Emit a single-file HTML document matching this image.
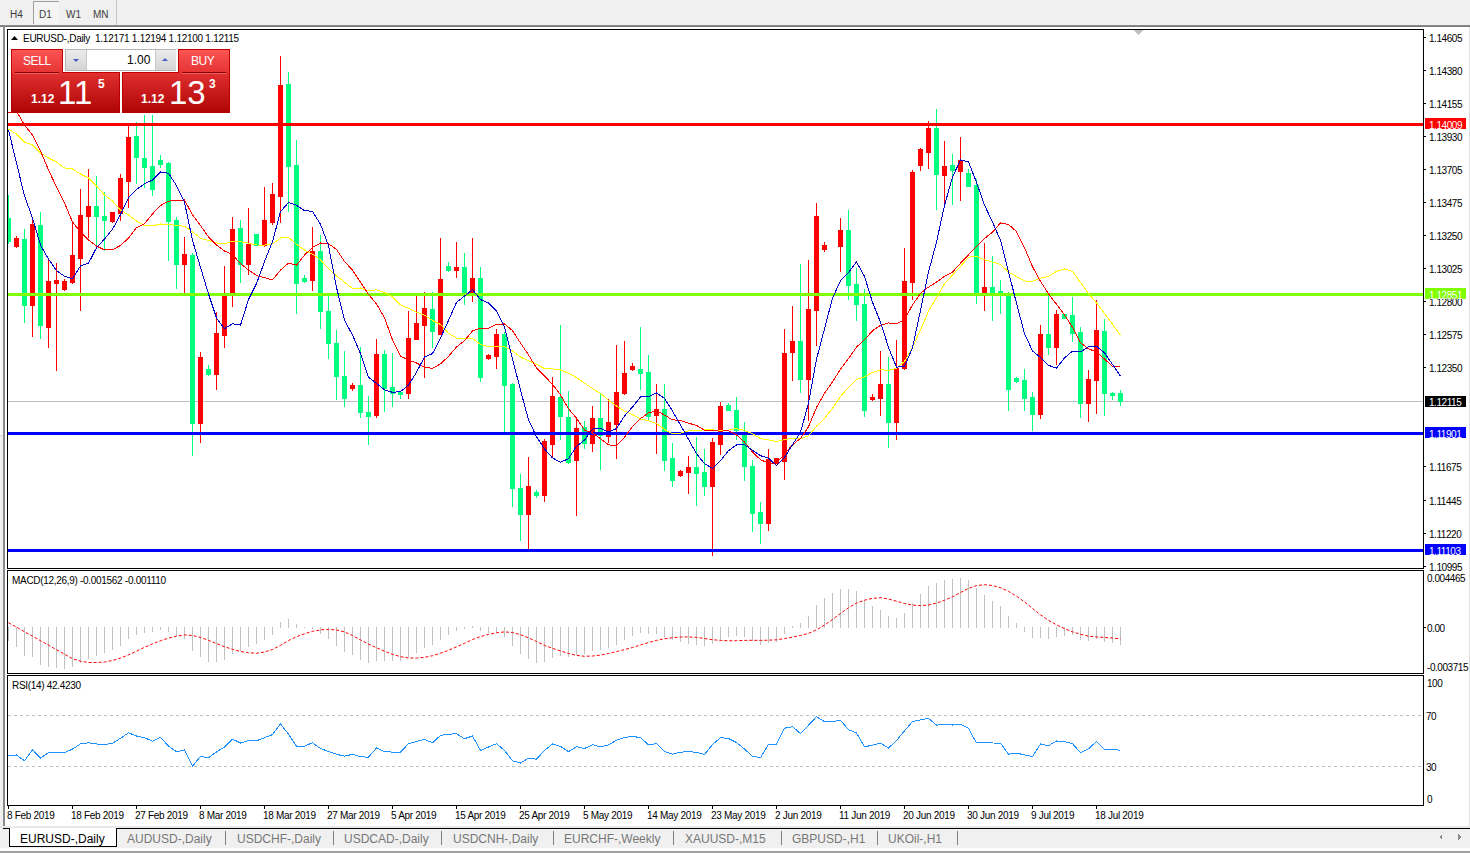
<!DOCTYPE html><html><head><meta charset="utf-8"><style>
html,body{margin:0;padding:0;width:1470px;height:853px;overflow:hidden;background:#f0f0f0;}
body{position:relative;font-family:"Liberation Sans",sans-serif;}
.t{position:absolute;white-space:nowrap;line-height:1;}
</style></head><body>
<svg width="1470" height="853" viewBox="0 0 1470 853" style="position:absolute;left:0;top:0" shape-rendering="crispEdges">
<rect x="0" y="0" width="1470" height="25" fill="#f0f0f0"/>
<rect x="33" y="1" width="26" height="23" fill="#f4f4f4"/>
<rect x="33" y="1" width="26" height="1" fill="#a0a0a0"/>
<rect x="33" y="1" width="1" height="23" fill="#a0a0a0"/>
<rect x="116" y="0" width="1" height="25" fill="#c8c8c8"/>
<rect x="0" y="25" width="1470" height="1" fill="#8a8a8a"/>
<rect x="0" y="26" width="1470" height="1" fill="#7a7a7a"/>
<rect x="0" y="27" width="3" height="800" fill="#f0f0f0"/>
<rect x="0" y="27" width="3" height="408" fill="#f9f9f9"/>
<rect x="0" y="435" width="3" height="1" fill="#d8d8d8"/>
<rect x="3" y="26" width="2" height="801" fill="#8a8a8a"/>
<rect x="5" y="27" width="1464" height="800" fill="#ffffff"/>
<rect x="1469" y="27" width="1" height="800" fill="#e0e0e0"/>
<rect x="0" y="826" width="1470" height="2" fill="#e8e8e8"/>
<rect x="7" y="29" width="1417" height="1" fill="#000"/>
<rect x="7" y="568" width="1417" height="1" fill="#000"/>
<rect x="7" y="29" width="1" height="540" fill="#000"/>
<rect x="1423" y="29" width="1" height="540" fill="#000"/>
<rect x="7" y="570" width="1417" height="1" fill="#000"/>
<rect x="7" y="673" width="1417" height="1" fill="#000"/>
<rect x="7" y="570" width="1" height="104" fill="#000"/>
<rect x="1423" y="570" width="1" height="104" fill="#000"/>
<rect x="7" y="675" width="1417" height="1" fill="#000"/>
<rect x="7" y="805" width="1417" height="1" fill="#000"/>
<rect x="7" y="675" width="1" height="131" fill="#000"/>
<rect x="1423" y="675" width="1" height="131" fill="#000"/>
<defs><clipPath id="cm"><rect x="8" y="30" width="1415" height="538"/></clipPath>
<clipPath id="cmacd"><rect x="8" y="571" width="1415" height="102"/></clipPath>
<clipPath id="crsi"><rect x="8" y="676" width="1415" height="129"/></clipPath></defs>
<g clip-path="url(#cm)">
<rect x="8" y="401" width="1415" height="1" fill="#c0c0c0"/>
<rect x="8" y="195" width="1" height="49" fill="#00ff7f"/>
<rect x="6" y="218" width="5" height="24" fill="#00ff7f"/>
<rect x="16" y="236" width="1" height="12" fill="#ff0000"/>
<rect x="14" y="238" width="5" height="9" fill="#ff0000"/>
<rect x="24" y="229" width="1" height="94" fill="#00ff7f"/>
<rect x="22" y="239" width="5" height="67" fill="#00ff7f"/>
<rect x="32" y="218" width="1" height="119" fill="#ff0000"/>
<rect x="30" y="224" width="5" height="82" fill="#ff0000"/>
<rect x="40" y="212" width="1" height="127" fill="#00ff7f"/>
<rect x="38" y="225" width="5" height="101" fill="#00ff7f"/>
<rect x="48" y="259" width="1" height="89" fill="#ff0000"/>
<rect x="46" y="281" width="5" height="47" fill="#ff0000"/>
<rect x="56" y="263" width="1" height="108" fill="#ff0000"/>
<rect x="54" y="280" width="5" height="4" fill="#ff0000"/>
<rect x="64" y="279" width="1" height="12" fill="#ff0000"/>
<rect x="62" y="281" width="5" height="9" fill="#ff0000"/>
<rect x="72" y="222" width="1" height="62" fill="#ff0000"/>
<rect x="70" y="255" width="5" height="28" fill="#ff0000"/>
<rect x="80" y="189" width="1" height="122" fill="#ff0000"/>
<rect x="78" y="215" width="5" height="44" fill="#ff0000"/>
<rect x="88" y="169" width="1" height="69" fill="#ff0000"/>
<rect x="86" y="206" width="5" height="11" fill="#ff0000"/>
<rect x="96" y="176" width="1" height="69" fill="#00ff7f"/>
<rect x="94" y="206" width="5" height="11" fill="#00ff7f"/>
<rect x="104" y="192" width="1" height="59" fill="#00ff7f"/>
<rect x="102" y="216" width="5" height="5" fill="#00ff7f"/>
<rect x="112" y="212" width="1" height="11" fill="#ff0000"/>
<rect x="110" y="212" width="5" height="10" fill="#ff0000"/>
<rect x="120" y="174" width="1" height="47" fill="#ff0000"/>
<rect x="118" y="178" width="5" height="36" fill="#ff0000"/>
<rect x="128" y="125" width="1" height="83" fill="#ff0000"/>
<rect x="126" y="137" width="5" height="45" fill="#ff0000"/>
<rect x="136" y="122" width="1" height="62" fill="#00ff7f"/>
<rect x="134" y="136" width="5" height="22" fill="#00ff7f"/>
<rect x="144" y="115" width="1" height="73" fill="#00ff7f"/>
<rect x="142" y="158" width="5" height="10" fill="#00ff7f"/>
<rect x="152" y="115" width="1" height="81" fill="#00ff7f"/>
<rect x="150" y="166" width="5" height="24" fill="#00ff7f"/>
<rect x="160" y="155" width="1" height="13" fill="#00ff7f"/>
<rect x="158" y="160" width="5" height="5" fill="#00ff7f"/>
<rect x="168" y="162" width="1" height="99" fill="#00ff7f"/>
<rect x="166" y="163" width="5" height="59" fill="#00ff7f"/>
<rect x="176" y="217" width="1" height="72" fill="#00ff7f"/>
<rect x="174" y="220" width="5" height="45" fill="#00ff7f"/>
<rect x="184" y="237" width="1" height="56" fill="#ff0000"/>
<rect x="182" y="254" width="5" height="11" fill="#ff0000"/>
<rect x="192" y="253" width="1" height="203" fill="#00ff7f"/>
<rect x="190" y="255" width="5" height="169" fill="#00ff7f"/>
<rect x="200" y="352" width="1" height="91" fill="#ff0000"/>
<rect x="198" y="357" width="5" height="67" fill="#ff0000"/>
<rect x="208" y="365" width="1" height="11" fill="#00ff7f"/>
<rect x="206" y="369" width="5" height="6" fill="#00ff7f"/>
<rect x="216" y="312" width="1" height="78" fill="#ff0000"/>
<rect x="214" y="333" width="5" height="42" fill="#ff0000"/>
<rect x="224" y="266" width="1" height="82" fill="#ff0000"/>
<rect x="222" y="296" width="5" height="40" fill="#ff0000"/>
<rect x="232" y="217" width="1" height="90" fill="#ff0000"/>
<rect x="230" y="229" width="5" height="65" fill="#ff0000"/>
<rect x="240" y="220" width="1" height="63" fill="#00ff7f"/>
<rect x="238" y="228" width="5" height="37" fill="#00ff7f"/>
<rect x="248" y="208" width="1" height="67" fill="#ff0000"/>
<rect x="246" y="244" width="5" height="21" fill="#ff0000"/>
<rect x="256" y="234" width="1" height="12" fill="#00ff7f"/>
<rect x="254" y="234" width="5" height="12" fill="#00ff7f"/>
<rect x="264" y="187" width="1" height="60" fill="#ff0000"/>
<rect x="262" y="220" width="5" height="26" fill="#ff0000"/>
<rect x="272" y="183" width="1" height="42" fill="#ff0000"/>
<rect x="270" y="194" width="5" height="29" fill="#ff0000"/>
<rect x="280" y="56" width="1" height="167" fill="#ff0000"/>
<rect x="278" y="85" width="5" height="112" fill="#ff0000"/>
<rect x="288" y="72" width="1" height="140" fill="#00ff7f"/>
<rect x="286" y="84" width="5" height="83" fill="#00ff7f"/>
<rect x="296" y="140" width="1" height="174" fill="#00ff7f"/>
<rect x="294" y="165" width="5" height="119" fill="#00ff7f"/>
<rect x="304" y="275" width="1" height="8" fill="#00ff7f"/>
<rect x="302" y="278" width="5" height="4" fill="#00ff7f"/>
<rect x="312" y="227" width="1" height="64" fill="#ff0000"/>
<rect x="310" y="251" width="5" height="30" fill="#ff0000"/>
<rect x="320" y="235" width="1" height="94" fill="#00ff7f"/>
<rect x="318" y="251" width="5" height="61" fill="#00ff7f"/>
<rect x="328" y="296" width="1" height="63" fill="#00ff7f"/>
<rect x="326" y="311" width="5" height="33" fill="#00ff7f"/>
<rect x="336" y="330" width="1" height="70" fill="#00ff7f"/>
<rect x="334" y="343" width="5" height="34" fill="#00ff7f"/>
<rect x="344" y="351" width="1" height="56" fill="#00ff7f"/>
<rect x="342" y="376" width="5" height="23" fill="#00ff7f"/>
<rect x="352" y="383" width="1" height="8" fill="#ff0000"/>
<rect x="350" y="385" width="5" height="4" fill="#ff0000"/>
<rect x="360" y="347" width="1" height="71" fill="#00ff7f"/>
<rect x="358" y="385" width="5" height="28" fill="#00ff7f"/>
<rect x="368" y="396" width="1" height="49" fill="#00ff7f"/>
<rect x="366" y="412" width="5" height="5" fill="#00ff7f"/>
<rect x="376" y="339" width="1" height="79" fill="#ff0000"/>
<rect x="374" y="354" width="5" height="62" fill="#ff0000"/>
<rect x="384" y="350" width="1" height="62" fill="#00ff7f"/>
<rect x="382" y="354" width="5" height="35" fill="#00ff7f"/>
<rect x="392" y="353" width="1" height="54" fill="#00ff7f"/>
<rect x="390" y="387" width="5" height="7" fill="#00ff7f"/>
<rect x="400" y="391" width="1" height="8" fill="#00ff7f"/>
<rect x="398" y="392" width="5" height="3" fill="#00ff7f"/>
<rect x="408" y="311" width="1" height="88" fill="#ff0000"/>
<rect x="406" y="338" width="5" height="56" fill="#ff0000"/>
<rect x="416" y="296" width="1" height="44" fill="#ff0000"/>
<rect x="414" y="323" width="5" height="17" fill="#ff0000"/>
<rect x="424" y="292" width="1" height="86" fill="#ff0000"/>
<rect x="422" y="308" width="5" height="18" fill="#ff0000"/>
<rect x="432" y="292" width="1" height="56" fill="#00ff7f"/>
<rect x="430" y="309" width="5" height="23" fill="#00ff7f"/>
<rect x="440" y="238" width="1" height="97" fill="#ff0000"/>
<rect x="438" y="279" width="5" height="56" fill="#ff0000"/>
<rect x="448" y="262" width="1" height="10" fill="#00ff7f"/>
<rect x="446" y="266" width="5" height="5" fill="#00ff7f"/>
<rect x="456" y="242" width="1" height="36" fill="#ff0000"/>
<rect x="454" y="267" width="5" height="4" fill="#ff0000"/>
<rect x="464" y="253" width="1" height="52" fill="#00ff7f"/>
<rect x="462" y="267" width="5" height="29" fill="#00ff7f"/>
<rect x="472" y="238" width="1" height="64" fill="#ff0000"/>
<rect x="470" y="278" width="5" height="16" fill="#ff0000"/>
<rect x="480" y="267" width="1" height="115" fill="#00ff7f"/>
<rect x="478" y="278" width="5" height="100" fill="#00ff7f"/>
<rect x="488" y="354" width="1" height="6" fill="#ff0000"/>
<rect x="486" y="355" width="5" height="4" fill="#ff0000"/>
<rect x="496" y="329" width="1" height="40" fill="#ff0000"/>
<rect x="494" y="334" width="5" height="23" fill="#ff0000"/>
<rect x="504" y="332" width="1" height="100" fill="#00ff7f"/>
<rect x="502" y="334" width="5" height="52" fill="#00ff7f"/>
<rect x="512" y="383" width="1" height="124" fill="#00ff7f"/>
<rect x="510" y="384" width="5" height="105" fill="#00ff7f"/>
<rect x="520" y="474" width="1" height="67" fill="#00ff7f"/>
<rect x="518" y="488" width="5" height="27" fill="#00ff7f"/>
<rect x="528" y="457" width="1" height="93" fill="#ff0000"/>
<rect x="526" y="486" width="5" height="29" fill="#ff0000"/>
<rect x="536" y="490" width="1" height="8" fill="#00ff7f"/>
<rect x="534" y="492" width="5" height="4" fill="#00ff7f"/>
<rect x="544" y="439" width="1" height="63" fill="#ff0000"/>
<rect x="542" y="441" width="5" height="55" fill="#ff0000"/>
<rect x="552" y="377" width="1" height="80" fill="#ff0000"/>
<rect x="550" y="396" width="5" height="49" fill="#ff0000"/>
<rect x="560" y="325" width="1" height="115" fill="#00ff7f"/>
<rect x="558" y="397" width="5" height="20" fill="#00ff7f"/>
<rect x="568" y="391" width="1" height="73" fill="#00ff7f"/>
<rect x="566" y="417" width="5" height="46" fill="#00ff7f"/>
<rect x="576" y="419" width="1" height="97" fill="#ff0000"/>
<rect x="574" y="428" width="5" height="33" fill="#ff0000"/>
<rect x="584" y="421" width="1" height="28" fill="#00ff7f"/>
<rect x="582" y="427" width="5" height="17" fill="#00ff7f"/>
<rect x="592" y="406" width="1" height="46" fill="#ff0000"/>
<rect x="590" y="418" width="5" height="26" fill="#ff0000"/>
<rect x="600" y="393" width="1" height="77" fill="#00ff7f"/>
<rect x="598" y="418" width="5" height="18" fill="#00ff7f"/>
<rect x="608" y="399" width="1" height="44" fill="#ff0000"/>
<rect x="606" y="422" width="5" height="15" fill="#ff0000"/>
<rect x="616" y="345" width="1" height="114" fill="#ff0000"/>
<rect x="614" y="392" width="5" height="33" fill="#ff0000"/>
<rect x="624" y="341" width="1" height="54" fill="#ff0000"/>
<rect x="622" y="373" width="5" height="21" fill="#ff0000"/>
<rect x="632" y="363" width="1" height="8" fill="#ff0000"/>
<rect x="630" y="366" width="5" height="4" fill="#ff0000"/>
<rect x="640" y="327" width="1" height="63" fill="#00ff7f"/>
<rect x="638" y="369" width="5" height="5" fill="#00ff7f"/>
<rect x="648" y="355" width="1" height="65" fill="#00ff7f"/>
<rect x="646" y="372" width="5" height="45" fill="#00ff7f"/>
<rect x="656" y="384" width="1" height="70" fill="#ff0000"/>
<rect x="654" y="409" width="5" height="7" fill="#ff0000"/>
<rect x="664" y="384" width="1" height="87" fill="#00ff7f"/>
<rect x="662" y="409" width="5" height="52" fill="#00ff7f"/>
<rect x="672" y="443" width="1" height="44" fill="#00ff7f"/>
<rect x="670" y="458" width="5" height="23" fill="#00ff7f"/>
<rect x="680" y="470" width="1" height="7" fill="#ff0000"/>
<rect x="678" y="471" width="5" height="5" fill="#ff0000"/>
<rect x="688" y="456" width="1" height="38" fill="#ff0000"/>
<rect x="686" y="467" width="5" height="6" fill="#ff0000"/>
<rect x="696" y="437" width="1" height="69" fill="#00ff7f"/>
<rect x="694" y="467" width="5" height="7" fill="#00ff7f"/>
<rect x="704" y="449" width="1" height="47" fill="#00ff7f"/>
<rect x="702" y="472" width="5" height="15" fill="#00ff7f"/>
<rect x="712" y="438" width="1" height="118" fill="#ff0000"/>
<rect x="710" y="442" width="5" height="45" fill="#ff0000"/>
<rect x="720" y="402" width="1" height="53" fill="#ff0000"/>
<rect x="718" y="406" width="5" height="39" fill="#ff0000"/>
<rect x="728" y="403" width="1" height="8" fill="#00ff7f"/>
<rect x="726" y="405" width="5" height="6" fill="#00ff7f"/>
<rect x="736" y="397" width="1" height="43" fill="#00ff7f"/>
<rect x="734" y="410" width="5" height="21" fill="#00ff7f"/>
<rect x="744" y="422" width="1" height="59" fill="#00ff7f"/>
<rect x="742" y="434" width="5" height="33" fill="#00ff7f"/>
<rect x="752" y="460" width="1" height="72" fill="#00ff7f"/>
<rect x="750" y="466" width="5" height="48" fill="#00ff7f"/>
<rect x="760" y="502" width="1" height="42" fill="#00ff7f"/>
<rect x="758" y="512" width="5" height="12" fill="#00ff7f"/>
<rect x="768" y="449" width="1" height="82" fill="#ff0000"/>
<rect x="766" y="459" width="5" height="65" fill="#ff0000"/>
<rect x="776" y="458" width="1" height="6" fill="#ff0000"/>
<rect x="774" y="458" width="5" height="6" fill="#ff0000"/>
<rect x="784" y="329" width="1" height="151" fill="#ff0000"/>
<rect x="782" y="353" width="5" height="109" fill="#ff0000"/>
<rect x="792" y="306" width="1" height="75" fill="#ff0000"/>
<rect x="790" y="341" width="5" height="12" fill="#ff0000"/>
<rect x="800" y="264" width="1" height="129" fill="#00ff7f"/>
<rect x="798" y="341" width="5" height="39" fill="#00ff7f"/>
<rect x="808" y="260" width="1" height="161" fill="#ff0000"/>
<rect x="806" y="309" width="5" height="71" fill="#ff0000"/>
<rect x="816" y="203" width="1" height="143" fill="#ff0000"/>
<rect x="814" y="216" width="5" height="95" fill="#ff0000"/>
<rect x="824" y="242" width="1" height="10" fill="#ff0000"/>
<rect x="822" y="245" width="5" height="5" fill="#ff0000"/>
<rect x="840" y="218" width="1" height="54" fill="#ff0000"/>
<rect x="838" y="230" width="5" height="17" fill="#ff0000"/>
<rect x="848" y="210" width="1" height="90" fill="#00ff7f"/>
<rect x="846" y="230" width="5" height="56" fill="#00ff7f"/>
<rect x="856" y="268" width="1" height="53" fill="#00ff7f"/>
<rect x="854" y="284" width="5" height="21" fill="#00ff7f"/>
<rect x="864" y="289" width="1" height="128" fill="#00ff7f"/>
<rect x="862" y="304" width="5" height="107" fill="#00ff7f"/>
<rect x="872" y="394" width="1" height="7" fill="#ff0000"/>
<rect x="870" y="397" width="5" height="3" fill="#ff0000"/>
<rect x="880" y="351" width="1" height="65" fill="#ff0000"/>
<rect x="878" y="384" width="5" height="15" fill="#ff0000"/>
<rect x="888" y="357" width="1" height="91" fill="#00ff7f"/>
<rect x="886" y="384" width="5" height="39" fill="#00ff7f"/>
<rect x="896" y="340" width="1" height="100" fill="#ff0000"/>
<rect x="894" y="368" width="5" height="55" fill="#ff0000"/>
<rect x="904" y="248" width="1" height="122" fill="#ff0000"/>
<rect x="902" y="281" width="5" height="88" fill="#ff0000"/>
<rect x="912" y="170" width="1" height="130" fill="#ff0000"/>
<rect x="910" y="172" width="5" height="111" fill="#ff0000"/>
<rect x="920" y="148" width="1" height="23" fill="#ff0000"/>
<rect x="918" y="149" width="5" height="17" fill="#ff0000"/>
<rect x="928" y="121" width="1" height="48" fill="#ff0000"/>
<rect x="926" y="128" width="5" height="25" fill="#ff0000"/>
<rect x="936" y="109" width="1" height="101" fill="#00ff7f"/>
<rect x="934" y="128" width="5" height="47" fill="#00ff7f"/>
<rect x="944" y="141" width="1" height="64" fill="#ff0000"/>
<rect x="942" y="166" width="5" height="10" fill="#ff0000"/>
<rect x="952" y="154" width="1" height="51" fill="#00ff7f"/>
<rect x="950" y="165" width="5" height="6" fill="#00ff7f"/>
<rect x="960" y="137" width="1" height="64" fill="#ff0000"/>
<rect x="958" y="160" width="5" height="12" fill="#ff0000"/>
<rect x="968" y="169" width="1" height="18" fill="#00ff7f"/>
<rect x="966" y="173" width="5" height="14" fill="#00ff7f"/>
<rect x="976" y="179" width="1" height="125" fill="#00ff7f"/>
<rect x="974" y="185" width="5" height="109" fill="#00ff7f"/>
<rect x="984" y="243" width="1" height="68" fill="#ff0000"/>
<rect x="982" y="287" width="5" height="7" fill="#ff0000"/>
<rect x="992" y="256" width="1" height="65" fill="#00ff7f"/>
<rect x="990" y="287" width="5" height="7" fill="#00ff7f"/>
<rect x="1000" y="280" width="1" height="34" fill="#00ff7f"/>
<rect x="998" y="291" width="5" height="4" fill="#00ff7f"/>
<rect x="1008" y="292" width="1" height="119" fill="#00ff7f"/>
<rect x="1006" y="295" width="5" height="95" fill="#00ff7f"/>
<rect x="1016" y="377" width="1" height="6" fill="#00ff7f"/>
<rect x="1014" y="378" width="5" height="4" fill="#00ff7f"/>
<rect x="1024" y="369" width="1" height="42" fill="#00ff7f"/>
<rect x="1022" y="380" width="5" height="19" fill="#00ff7f"/>
<rect x="1032" y="392" width="1" height="39" fill="#00ff7f"/>
<rect x="1030" y="397" width="5" height="18" fill="#00ff7f"/>
<rect x="1040" y="325" width="1" height="94" fill="#ff0000"/>
<rect x="1038" y="334" width="5" height="81" fill="#ff0000"/>
<rect x="1048" y="296" width="1" height="59" fill="#00ff7f"/>
<rect x="1046" y="334" width="5" height="14" fill="#00ff7f"/>
<rect x="1056" y="310" width="1" height="55" fill="#ff0000"/>
<rect x="1054" y="314" width="5" height="34" fill="#ff0000"/>
<rect x="1064" y="314" width="1" height="5" fill="#00ff7f"/>
<rect x="1062" y="314" width="5" height="5" fill="#00ff7f"/>
<rect x="1072" y="297" width="1" height="45" fill="#00ff7f"/>
<rect x="1070" y="315" width="5" height="19" fill="#00ff7f"/>
<rect x="1080" y="327" width="1" height="91" fill="#00ff7f"/>
<rect x="1078" y="332" width="5" height="72" fill="#00ff7f"/>
<rect x="1088" y="370" width="1" height="52" fill="#ff0000"/>
<rect x="1086" y="379" width="5" height="25" fill="#ff0000"/>
<rect x="1096" y="300" width="1" height="114" fill="#ff0000"/>
<rect x="1094" y="330" width="5" height="51" fill="#ff0000"/>
<rect x="1104" y="319" width="1" height="97" fill="#00ff7f"/>
<rect x="1102" y="331" width="5" height="63" fill="#00ff7f"/>
<rect x="1112" y="392" width="1" height="8" fill="#00ff7f"/>
<rect x="1110" y="393" width="5" height="3" fill="#00ff7f"/>
<rect x="1120" y="390" width="1" height="16" fill="#00ff7f"/>
<rect x="1118" y="393" width="5" height="9" fill="#00ff7f"/>
<rect x="8" y="123" width="1415" height="3" fill="#ff0000"/>
<rect x="8" y="293" width="1415" height="3" fill="#7fff00"/>
<rect x="8" y="432" width="1415" height="3" fill="#0000ff"/>
<rect x="8" y="549" width="1415" height="3" fill="#0000ff"/>
<polyline points="8.5,129.0 16.5,134.0 24.5,142.0 32.5,145.0 40.5,153.0 48.5,158.0 56.5,162.0 64.5,168.0 72.5,169.0 80.5,174.0 88.5,178.0 96.5,186.0 104.5,195.0 112.5,201.0 120.5,210.0 128.5,215.0 136.5,221.0 144.5,225.6 152.5,226.0 160.5,224.0 168.5,224.4 176.5,225.5 184.5,226.2 192.5,231.9 200.5,238.2 208.5,240.5 216.5,243.0 224.5,243.8 232.5,241.3 240.5,241.7 248.5,243.1 256.5,245.0 264.5,245.1 272.5,243.9 280.5,237.9 288.5,237.3 296.5,244.2 304.5,250.1 312.5,254.1 320.5,260.0 328.5,268.5 336.5,275.9 344.5,282.2 352.5,288.5 360.5,288.0 368.5,290.8 376.5,289.8 384.5,292.4 392.5,297.0 400.5,304.9 408.5,308.4 416.5,312.2 424.5,315.2 432.5,320.5 440.5,324.5 448.5,333.3 456.5,338.1 464.5,338.7 472.5,338.6 480.5,344.6 488.5,346.7 496.5,346.2 504.5,346.7 512.5,351.0 520.5,357.1 528.5,360.6 536.5,364.4 544.5,368.5 552.5,368.9 560.5,370.0 568.5,373.2 576.5,377.5 584.5,383.2 592.5,388.5 600.5,393.4 608.5,400.2 616.5,406.0 624.5,411.1 632.5,414.5 640.5,419.0 648.5,420.9 656.5,423.4 664.5,429.4 672.5,434.0 680.5,433.1 688.5,430.9 696.5,430.3 704.5,429.9 712.5,429.9 720.5,430.4 728.5,430.1 736.5,428.6 744.5,430.4 752.5,433.7 760.5,438.7 768.5,439.9 776.5,441.6 784.5,439.7 792.5,438.2 800.5,438.8 808.5,435.8 816.5,426.2 824.5,418.4 832.5,408.2 840.5,396.3 848.5,387.4 856.5,379.7 864.5,376.7 872.5,372.4 880.5,369.7 888.5,370.4 896.5,368.4 904.5,361.3 912.5,347.3 920.5,330.0 928.5,311.2 936.5,297.6 944.5,283.7 952.5,275.0 960.5,266.4 968.5,257.2 976.5,256.4 984.5,259.8 992.5,262.1 1000.5,264.4 1008.5,272.0 1016.5,276.6 1024.5,281.0 1032.5,281.2 1040.5,278.2 1048.5,276.5 1056.5,271.3 1064.5,269.0 1072.5,271.4 1080.5,282.4 1088.5,293.4 1096.5,303.0 1104.5,313.4 1112.5,324.3 1120.5,335.3" fill="none" stroke="#ffff00" stroke-width="1" shape-rendering="crispEdges"/>
<polyline points="8.5,113.0 16.5,111.0 24.5,125.0 32.5,135.0 40.5,151.0 48.5,170.0 56.5,187.0 64.5,203.0 72.5,222.0 80.5,232.0 88.5,240.0 96.5,246.0 104.5,250.0 112.5,249.9 120.5,245.4 128.5,238.2 136.5,227.6 144.5,223.6 152.5,213.9 160.5,205.5 168.5,201.3 176.5,200.1 184.5,200.0 192.5,214.9 200.5,225.6 208.5,236.9 216.5,245.0 224.5,251.0 232.5,254.6 240.5,263.7 248.5,269.9 256.5,275.5 264.5,277.7 272.5,279.9 280.5,270.1 288.5,263.1 296.5,265.2 304.5,255.1 312.5,247.5 320.5,243.0 328.5,243.7 336.5,249.4 344.5,261.5 352.5,270.1 360.5,282.1 368.5,294.4 376.5,303.9 384.5,317.8 392.5,339.8 400.5,356.1 408.5,360.0 416.5,363.0 424.5,367.1 432.5,368.5 440.5,363.9 448.5,356.4 456.5,347.0 464.5,340.6 472.5,331.0 480.5,328.2 488.5,328.3 496.5,324.4 504.5,323.9 512.5,330.6 520.5,343.1 528.5,354.8 536.5,368.1 544.5,376.0 552.5,384.4 560.5,394.8 568.5,408.7 576.5,418.2 584.5,430.0 592.5,432.9 600.5,438.6 608.5,444.9 616.5,445.4 624.5,437.2 632.5,426.6 640.5,418.6 648.5,412.9 656.5,410.6 664.5,415.2 672.5,419.8 680.5,420.4 688.5,423.2 696.5,425.4 704.5,430.2 712.5,430.7 720.5,429.6 728.5,430.9 736.5,434.9 744.5,442.1 752.5,452.1 760.5,459.7 768.5,463.3 776.5,463.1 784.5,454.1 792.5,444.8 800.5,438.5 808.5,426.8 816.5,407.5 824.5,393.4 832.5,381.9 840.5,369.1 848.5,358.7 856.5,347.1 864.5,339.8 872.5,330.8 880.5,325.4 888.5,322.9 896.5,323.9 904.5,319.6 912.5,304.9 920.5,293.4 928.5,287.1 936.5,282.1 944.5,276.4 952.5,272.1 960.5,263.2 968.5,254.8 976.5,246.4 984.5,238.6 992.5,232.1 1000.5,222.9 1008.5,224.4 1016.5,231.6 1024.5,247.7 1032.5,266.6 1040.5,281.4 1048.5,293.7 1056.5,304.3 1064.5,314.9 1072.5,327.2 1080.5,342.7 1088.5,348.9 1096.5,351.9 1104.5,359.1 1112.5,366.3 1120.5,367.1" fill="none" stroke="#ff0000" stroke-width="1" shape-rendering="crispEdges"/>
<polyline points="8.5,130.0 16.5,163.0 24.5,196.0 32.5,218.0 40.5,245.0 48.5,259.0 56.5,270.6 64.5,276.3 72.5,278.7 80.5,265.9 88.5,263.3 96.5,247.7 104.5,239.0 112.5,229.3 120.5,214.6 128.5,197.7 136.5,189.4 144.5,183.9 152.5,180.0 160.5,172.0 168.5,173.3 176.5,185.6 184.5,202.3 192.5,240.3 200.5,267.4 208.5,293.9 216.5,318.0 224.5,328.7 232.5,323.7 240.5,325.1 248.5,299.6 256.5,283.6 264.5,261.6 272.5,241.7 280.5,211.6 288.5,202.6 296.5,205.3 304.5,210.6 312.5,211.4 320.5,224.4 328.5,245.7 336.5,287.3 344.5,320.4 352.5,335.0 360.5,353.7 368.5,377.3 376.5,383.4 384.5,389.9 392.5,392.3 400.5,391.7 408.5,385.0 416.5,372.3 424.5,356.9 432.5,353.6 440.5,338.0 448.5,320.4 456.5,302.3 464.5,296.1 472.5,289.7 480.5,299.6 488.5,303.0 496.5,310.9 504.5,327.3 512.5,358.9 520.5,390.1 528.5,419.9 536.5,436.7 544.5,449.0 552.5,457.9 560.5,462.3 568.5,458.6 576.5,446.3 584.5,440.1 592.5,429.1 600.5,428.3 608.5,432.0 616.5,428.6 624.5,415.9 632.5,407.0 640.5,397.0 648.5,396.7 656.5,393.0 664.5,398.4 672.5,411.0 680.5,425.0 688.5,439.4 696.5,453.7 704.5,463.7 712.5,468.4 720.5,460.7 728.5,450.7 736.5,444.9 744.5,444.7 752.5,450.4 760.5,455.7 768.5,458.1 776.5,465.6 784.5,457.4 792.5,444.7 800.5,432.3 808.5,403.1 816.5,359.3 824.5,328.7 832.5,298.3 840.5,280.7 848.5,272.7 856.5,262.0 864.5,276.4 872.5,302.3 880.5,322.1 888.5,347.4 896.5,367.1 904.5,366.6 912.5,347.7 920.5,310.4 928.5,272.0 936.5,242.0 944.5,205.4 952.5,177.1 960.5,159.9 968.5,161.9 976.5,182.4 984.5,205.1 992.5,222.1 1000.5,240.4 1008.5,271.7 1016.5,303.3 1024.5,333.6 1032.5,350.9 1040.5,357.6 1048.5,365.3 1056.5,368.1 1064.5,358.0 1072.5,351.1 1080.5,351.9 1088.5,346.9 1096.5,346.3 1104.5,352.9 1112.5,364.4 1120.5,376.3" fill="none" stroke="#0000cd" stroke-width="1" shape-rendering="crispEdges"/>
</g>
<polygon points="1133,30 1143,30 1138,35" fill="#c0c0c0"/>
<rect x="1424" y="37" width="2" height="1" fill="#000"/>
<rect x="1424" y="70" width="2" height="1" fill="#000"/>
<rect x="1424" y="103" width="2" height="1" fill="#000"/>
<rect x="1424" y="136" width="2" height="1" fill="#000"/>
<rect x="1424" y="169" width="2" height="1" fill="#000"/>
<rect x="1424" y="202" width="2" height="1" fill="#000"/>
<rect x="1424" y="235" width="2" height="1" fill="#000"/>
<rect x="1424" y="268" width="2" height="1" fill="#000"/>
<rect x="1424" y="301" width="2" height="1" fill="#000"/>
<rect x="1424" y="334" width="2" height="1" fill="#000"/>
<rect x="1424" y="367" width="2" height="1" fill="#000"/>
<rect x="1424" y="466" width="2" height="1" fill="#000"/>
<rect x="1424" y="500" width="2" height="1" fill="#000"/>
<rect x="1424" y="533" width="2" height="1" fill="#000"/>
<rect x="1424" y="566" width="2" height="1" fill="#000"/>
<rect x="1425" y="118" width="41" height="11" fill="#ff0000"/>
<rect x="1425" y="288" width="41" height="11" fill="#7fff00"/>
<rect x="1425" y="396" width="41" height="11" fill="#000000"/>
<rect x="1425" y="427" width="41" height="11" fill="#0000ff"/>
<rect x="1425" y="544" width="41" height="11" fill="#0000ff"/>
<g clip-path="url(#cmacd)">
<rect x="8" y="627" width="1" height="14" fill="#c0c0c0"/>
<rect x="16" y="627" width="1" height="20" fill="#c0c0c0"/>
<rect x="24" y="627" width="1" height="29" fill="#c0c0c0"/>
<rect x="32" y="627" width="1" height="30" fill="#c0c0c0"/>
<rect x="40" y="627" width="1" height="38" fill="#c0c0c0"/>
<rect x="48" y="627" width="1" height="40" fill="#c0c0c0"/>
<rect x="56" y="627" width="1" height="41" fill="#c0c0c0"/>
<rect x="64" y="627" width="1" height="42" fill="#c0c0c0"/>
<rect x="72" y="627" width="1" height="40" fill="#c0c0c0"/>
<rect x="80" y="627" width="1" height="36" fill="#c0c0c0"/>
<rect x="88" y="627" width="1" height="32" fill="#c0c0c0"/>
<rect x="96" y="627" width="1" height="29" fill="#c0c0c0"/>
<rect x="104" y="627" width="1" height="26" fill="#c0c0c0"/>
<rect x="112" y="627" width="1" height="23" fill="#c0c0c0"/>
<rect x="120" y="627" width="1" height="19" fill="#c0c0c0"/>
<rect x="128" y="627" width="1" height="12" fill="#c0c0c0"/>
<rect x="136" y="627" width="1" height="8" fill="#c0c0c0"/>
<rect x="144" y="627" width="1" height="6" fill="#c0c0c0"/>
<rect x="152" y="627" width="1" height="5" fill="#c0c0c0"/>
<rect x="160" y="627" width="1" height="3" fill="#c0c0c0"/>
<rect x="168" y="627" width="1" height="5" fill="#c0c0c0"/>
<rect x="176" y="627" width="1" height="9" fill="#c0c0c0"/>
<rect x="184" y="627" width="1" height="12" fill="#c0c0c0"/>
<rect x="192" y="627" width="1" height="24" fill="#c0c0c0"/>
<rect x="200" y="627" width="1" height="30" fill="#c0c0c0"/>
<rect x="208" y="627" width="1" height="35" fill="#c0c0c0"/>
<rect x="216" y="627" width="1" height="35" fill="#c0c0c0"/>
<rect x="224" y="627" width="1" height="33" fill="#c0c0c0"/>
<rect x="232" y="627" width="1" height="27" fill="#c0c0c0"/>
<rect x="240" y="627" width="1" height="24" fill="#c0c0c0"/>
<rect x="248" y="627" width="1" height="20" fill="#c0c0c0"/>
<rect x="256" y="627" width="1" height="17" fill="#c0c0c0"/>
<rect x="264" y="627" width="1" height="13" fill="#c0c0c0"/>
<rect x="272" y="627" width="1" height="8" fill="#c0c0c0"/>
<rect x="280" y="622" width="1" height="6" fill="#c0c0c0"/>
<rect x="288" y="619" width="1" height="9" fill="#c0c0c0"/>
<rect x="296" y="624" width="1" height="4" fill="#c0c0c0"/>
<rect x="304" y="627" width="1" height="1" fill="#c0c0c0"/>
<rect x="312" y="627" width="1" height="2" fill="#c0c0c0"/>
<rect x="320" y="627" width="1" height="7" fill="#c0c0c0"/>
<rect x="328" y="627" width="1" height="12" fill="#c0c0c0"/>
<rect x="336" y="627" width="1" height="19" fill="#c0c0c0"/>
<rect x="344" y="627" width="1" height="25" fill="#c0c0c0"/>
<rect x="352" y="627" width="1" height="28" fill="#c0c0c0"/>
<rect x="360" y="627" width="1" height="33" fill="#c0c0c0"/>
<rect x="368" y="627" width="1" height="36" fill="#c0c0c0"/>
<rect x="376" y="627" width="1" height="34" fill="#c0c0c0"/>
<rect x="384" y="627" width="1" height="34" fill="#c0c0c0"/>
<rect x="392" y="627" width="1" height="34" fill="#c0c0c0"/>
<rect x="400" y="627" width="1" height="34" fill="#c0c0c0"/>
<rect x="408" y="627" width="1" height="30" fill="#c0c0c0"/>
<rect x="416" y="627" width="1" height="26" fill="#c0c0c0"/>
<rect x="424" y="627" width="1" height="21" fill="#c0c0c0"/>
<rect x="432" y="627" width="1" height="18" fill="#c0c0c0"/>
<rect x="440" y="627" width="1" height="13" fill="#c0c0c0"/>
<rect x="448" y="627" width="1" height="8" fill="#c0c0c0"/>
<rect x="456" y="627" width="1" height="4" fill="#c0c0c0"/>
<rect x="464" y="627" width="1" height="2" fill="#c0c0c0"/>
<rect x="472" y="626" width="1" height="2" fill="#c0c0c0"/>
<rect x="480" y="627" width="1" height="4" fill="#c0c0c0"/>
<rect x="488" y="627" width="1" height="6" fill="#c0c0c0"/>
<rect x="496" y="627" width="1" height="6" fill="#c0c0c0"/>
<rect x="504" y="627" width="1" height="10" fill="#c0c0c0"/>
<rect x="512" y="627" width="1" height="19" fill="#c0c0c0"/>
<rect x="520" y="627" width="1" height="27" fill="#c0c0c0"/>
<rect x="528" y="627" width="1" height="32" fill="#c0c0c0"/>
<rect x="536" y="627" width="1" height="36" fill="#c0c0c0"/>
<rect x="544" y="627" width="1" height="35" fill="#c0c0c0"/>
<rect x="552" y="627" width="1" height="31" fill="#c0c0c0"/>
<rect x="560" y="627" width="1" height="29" fill="#c0c0c0"/>
<rect x="568" y="627" width="1" height="30" fill="#c0c0c0"/>
<rect x="576" y="627" width="1" height="28" fill="#c0c0c0"/>
<rect x="584" y="627" width="1" height="27" fill="#c0c0c0"/>
<rect x="592" y="627" width="1" height="24" fill="#c0c0c0"/>
<rect x="600" y="627" width="1" height="23" fill="#c0c0c0"/>
<rect x="608" y="627" width="1" height="21" fill="#c0c0c0"/>
<rect x="616" y="627" width="1" height="18" fill="#c0c0c0"/>
<rect x="624" y="627" width="1" height="13" fill="#c0c0c0"/>
<rect x="632" y="627" width="1" height="9" fill="#c0c0c0"/>
<rect x="640" y="627" width="1" height="6" fill="#c0c0c0"/>
<rect x="648" y="627" width="1" height="7" fill="#c0c0c0"/>
<rect x="656" y="627" width="1" height="7" fill="#c0c0c0"/>
<rect x="664" y="627" width="1" height="10" fill="#c0c0c0"/>
<rect x="672" y="627" width="1" height="13" fill="#c0c0c0"/>
<rect x="680" y="627" width="1" height="15" fill="#c0c0c0"/>
<rect x="688" y="627" width="1" height="17" fill="#c0c0c0"/>
<rect x="696" y="627" width="1" height="18" fill="#c0c0c0"/>
<rect x="704" y="627" width="1" height="19" fill="#c0c0c0"/>
<rect x="712" y="627" width="1" height="17" fill="#c0c0c0"/>
<rect x="720" y="627" width="1" height="13" fill="#c0c0c0"/>
<rect x="728" y="627" width="1" height="10" fill="#c0c0c0"/>
<rect x="736" y="627" width="1" height="9" fill="#c0c0c0"/>
<rect x="744" y="627" width="1" height="10" fill="#c0c0c0"/>
<rect x="752" y="627" width="1" height="14" fill="#c0c0c0"/>
<rect x="760" y="627" width="1" height="18" fill="#c0c0c0"/>
<rect x="768" y="627" width="1" height="16" fill="#c0c0c0"/>
<rect x="776" y="627" width="1" height="15" fill="#c0c0c0"/>
<rect x="784" y="627" width="1" height="7" fill="#c0c0c0"/>
<rect x="792" y="626" width="1" height="2" fill="#c0c0c0"/>
<rect x="800" y="623" width="1" height="5" fill="#c0c0c0"/>
<rect x="808" y="616" width="1" height="12" fill="#c0c0c0"/>
<rect x="816" y="605" width="1" height="23" fill="#c0c0c0"/>
<rect x="824" y="598" width="1" height="30" fill="#c0c0c0"/>
<rect x="832" y="593" width="1" height="35" fill="#c0c0c0"/>
<rect x="840" y="589" width="1" height="39" fill="#c0c0c0"/>
<rect x="848" y="589" width="1" height="39" fill="#c0c0c0"/>
<rect x="856" y="591" width="1" height="37" fill="#c0c0c0"/>
<rect x="864" y="600" width="1" height="28" fill="#c0c0c0"/>
<rect x="872" y="606" width="1" height="22" fill="#c0c0c0"/>
<rect x="880" y="610" width="1" height="18" fill="#c0c0c0"/>
<rect x="888" y="616" width="1" height="12" fill="#c0c0c0"/>
<rect x="896" y="618" width="1" height="10" fill="#c0c0c0"/>
<rect x="904" y="613" width="1" height="15" fill="#c0c0c0"/>
<rect x="912" y="603" width="1" height="25" fill="#c0c0c0"/>
<rect x="920" y="594" width="1" height="34" fill="#c0c0c0"/>
<rect x="928" y="586" width="1" height="42" fill="#c0c0c0"/>
<rect x="936" y="583" width="1" height="45" fill="#c0c0c0"/>
<rect x="944" y="580" width="1" height="48" fill="#c0c0c0"/>
<rect x="952" y="579" width="1" height="49" fill="#c0c0c0"/>
<rect x="960" y="578" width="1" height="50" fill="#c0c0c0"/>
<rect x="968" y="580" width="1" height="48" fill="#c0c0c0"/>
<rect x="976" y="588" width="1" height="40" fill="#c0c0c0"/>
<rect x="984" y="595" width="1" height="33" fill="#c0c0c0"/>
<rect x="992" y="601" width="1" height="27" fill="#c0c0c0"/>
<rect x="1000" y="606" width="1" height="22" fill="#c0c0c0"/>
<rect x="1008" y="616" width="1" height="12" fill="#c0c0c0"/>
<rect x="1016" y="623" width="1" height="5" fill="#c0c0c0"/>
<rect x="1024" y="627" width="1" height="5" fill="#c0c0c0"/>
<rect x="1032" y="627" width="1" height="11" fill="#c0c0c0"/>
<rect x="1040" y="627" width="1" height="11" fill="#c0c0c0"/>
<rect x="1048" y="627" width="1" height="12" fill="#c0c0c0"/>
<rect x="1056" y="627" width="1" height="10" fill="#c0c0c0"/>
<rect x="1064" y="627" width="1" height="9" fill="#c0c0c0"/>
<rect x="1072" y="627" width="1" height="8" fill="#c0c0c0"/>
<rect x="1080" y="627" width="1" height="13" fill="#c0c0c0"/>
<rect x="1088" y="627" width="1" height="14" fill="#c0c0c0"/>
<rect x="1096" y="627" width="1" height="12" fill="#c0c0c0"/>
<rect x="1104" y="627" width="1" height="15" fill="#c0c0c0"/>
<rect x="1112" y="627" width="1" height="16" fill="#c0c0c0"/>
<rect x="1120" y="627" width="1" height="18" fill="#c0c0c0"/>
<polyline points="8.5,622.7 16.5,627.2 24.5,631.7 32.5,636.2 40.5,640.7 48.5,645.2 56.5,649.7 64.5,654.2 72.5,658.7 80.5,661.2 88.5,662.5 96.5,662.5 104.5,662.0 112.5,660.5 120.5,658.1 128.5,654.9 136.5,651.2 144.5,647.3 152.5,643.9 160.5,640.7 168.5,638.1 176.5,636.2 184.5,634.9 192.5,635.5 200.5,637.4 208.5,640.3 216.5,643.6 224.5,646.7 232.5,649.3 240.5,651.5 248.5,652.7 256.5,653.3 264.5,652.0 272.5,649.5 280.5,645.3 288.5,640.6 296.5,636.7 304.5,633.8 312.5,631.4 320.5,629.9 328.5,629.4 336.5,630.0 344.5,631.9 352.5,635.5 360.5,639.9 368.5,644.1 376.5,647.7 384.5,651.2 392.5,654.3 400.5,656.7 408.5,658.0 416.5,658.1 424.5,657.3 432.5,655.7 440.5,653.2 448.5,650.3 456.5,646.9 464.5,643.3 472.5,639.5 480.5,636.6 488.5,634.4 496.5,632.8 504.5,631.9 512.5,632.5 520.5,634.7 528.5,637.8 536.5,641.5 544.5,645.4 552.5,648.4 560.5,650.9 568.5,653.4 576.5,655.4 584.5,656.3 592.5,656.0 600.5,655.1 608.5,653.5 616.5,651.6 624.5,649.6 632.5,647.5 640.5,644.9 648.5,642.6 656.5,640.4 664.5,638.8 672.5,637.7 680.5,637.0 688.5,636.9 696.5,637.4 704.5,638.5 712.5,639.7 720.5,640.4 728.5,640.8 736.5,640.7 744.5,640.4 752.5,640.3 760.5,640.4 768.5,640.2 776.5,639.8 784.5,638.6 792.5,637.1 800.5,635.5 808.5,633.4 816.5,629.8 824.5,625.1 832.5,619.5 840.5,613.5 848.5,607.7 856.5,603.1 864.5,600.2 872.5,598.4 880.5,597.7 888.5,599.0 896.5,601.2 904.5,603.5 912.5,605.1 920.5,605.6 928.5,605.0 936.5,603.1 944.5,600.3 952.5,596.8 960.5,592.6 968.5,588.4 976.5,585.6 984.5,584.7 992.5,585.5 1000.5,587.7 1008.5,591.4 1016.5,596.2 1024.5,601.9 1032.5,608.4 1040.5,614.8 1048.5,620.3 1056.5,624.8 1064.5,628.6 1072.5,631.8 1080.5,634.3 1088.5,636.2 1096.5,637.0 1104.5,637.4 1112.5,638.1 1120.5,638.8" fill="none" stroke="#ff0000" stroke-width="1" stroke-dasharray="3,2" shape-rendering="auto"/>
</g>
<rect x="1424" y="627" width="2" height="1" fill="#000"/>
<g clip-path="url(#crsi)">
<line x1="8" y1="715.5" x2="1423" y2="715.5" stroke="#c0c0c0" stroke-width="1" stroke-dasharray="3,3"/>
<line x1="8" y1="766.5" x2="1423" y2="766.5" stroke="#c0c0c0" stroke-width="1" stroke-dasharray="3,3"/>
<polyline points="8.5,755.4 16.5,755.0 24.5,760.8 32.5,749.7 40.5,758.0 48.5,752.6 56.5,752.5 64.5,752.6 72.5,749.1 80.5,743.9 88.5,742.8 96.5,744.0 104.5,744.6 112.5,743.3 120.5,738.3 128.5,732.8 136.5,736.0 144.5,737.7 152.5,741.2 160.5,737.3 168.5,746.1 176.5,751.7 184.5,750.0 192.5,766.3 200.5,756.3 208.5,757.8 216.5,751.9 224.5,747.0 232.5,739.1 240.5,743.0 248.5,740.7 256.5,740.8 264.5,737.7 272.5,734.6 280.5,723.7 288.5,734.3 296.5,746.3 304.5,746.1 312.5,742.8 320.5,748.6 328.5,751.4 336.5,754.3 344.5,756.2 352.5,754.3 360.5,756.8 368.5,757.2 376.5,748.0 384.5,751.6 392.5,752.1 400.5,752.2 408.5,743.6 416.5,741.5 424.5,739.4 432.5,742.8 440.5,735.4 448.5,734.2 456.5,733.8 464.5,738.7 472.5,736.0 480.5,750.5 488.5,747.0 496.5,743.7 504.5,750.4 512.5,760.8 520.5,763.0 528.5,758.3 536.5,759.2 544.5,750.4 552.5,744.0 560.5,746.4 568.5,751.7 576.5,746.7 584.5,748.5 592.5,744.7 600.5,746.9 608.5,744.9 616.5,740.2 624.5,737.4 632.5,736.4 640.5,737.6 648.5,744.9 656.5,743.6 664.5,751.4 672.5,754.1 680.5,752.3 688.5,751.4 696.5,752.4 704.5,754.5 712.5,744.5 720.5,737.7 728.5,738.5 736.5,742.5 744.5,749.1 752.5,756.2 760.5,757.6 768.5,744.3 776.5,744.1 784.5,728.2 792.5,726.7 800.5,733.6 808.5,725.2 816.5,716.7 824.5,721.7 832.5,721.7 840.5,720.2 848.5,729.8 856.5,732.8 864.5,746.9 872.5,745.1 880.5,743.3 888.5,748.0 896.5,740.6 904.5,730.8 912.5,721.6 920.5,719.9 928.5,718.4 936.5,725.1 944.5,724.4 952.5,725.0 960.5,724.1 968.5,728.4 976.5,743.0 984.5,742.2 992.5,743.0 1000.5,743.1 1008.5,754.3 1016.5,753.1 1024.5,754.9 1032.5,756.6 1040.5,744.0 1048.5,745.7 1056.5,741.0 1064.5,741.5 1072.5,743.7 1080.5,752.7 1088.5,748.8 1096.5,741.5 1104.5,749.3 1112.5,749.5 1120.5,750.3" fill="none" stroke="#1e90ff" stroke-width="1" shape-rendering="crispEdges"/>
</g>
<rect x="8" y="806" width="1" height="3" fill="#000"/>
<rect x="72" y="806" width="1" height="3" fill="#000"/>
<rect x="136" y="806" width="1" height="3" fill="#000"/>
<rect x="200" y="806" width="1" height="3" fill="#000"/>
<rect x="264" y="806" width="1" height="3" fill="#000"/>
<rect x="328" y="806" width="1" height="3" fill="#000"/>
<rect x="392" y="806" width="1" height="3" fill="#000"/>
<rect x="456" y="806" width="1" height="3" fill="#000"/>
<rect x="520" y="806" width="1" height="3" fill="#000"/>
<rect x="584" y="806" width="1" height="3" fill="#000"/>
<rect x="648" y="806" width="1" height="3" fill="#000"/>
<rect x="712" y="806" width="1" height="3" fill="#000"/>
<rect x="776" y="806" width="1" height="3" fill="#000"/>
<rect x="840" y="806" width="1" height="3" fill="#000"/>
<rect x="904" y="806" width="1" height="3" fill="#000"/>
<rect x="968" y="806" width="1" height="3" fill="#000"/>
<rect x="1032" y="806" width="1" height="3" fill="#000"/>
<rect x="1096" y="806" width="1" height="3" fill="#000"/>
<rect x="3" y="828" width="1467" height="1" fill="#000"/>
<rect x="0" y="829" width="1470" height="19" fill="#f0f0f0"/>
<rect x="9" y="828" width="108" height="19" fill="#fff"/>
<rect x="9" y="828" width="1" height="19" fill="#000"/>
<rect x="116" y="828" width="1" height="19" fill="#000"/>
<rect x="9" y="846" width="108" height="1" fill="#000"/>
<rect x="0" y="848" width="1470" height="3" fill="#ffffff"/>
<rect x="0" y="851" width="1470" height="2" fill="#a0a0a0"/>
<polygon points="1442,834 1442,840 1439,837" fill="#888"/>
<polygon points="1458,834 1458,840 1461,837" fill="#888"/>
<rect x="225" y="831" width="1" height="14" fill="#808080"/>
<rect x="333" y="831" width="1" height="14" fill="#808080"/>
<rect x="441" y="831" width="1" height="14" fill="#808080"/>
<rect x="553" y="831" width="1" height="14" fill="#808080"/>
<rect x="673" y="831" width="1" height="14" fill="#808080"/>
<rect x="781" y="831" width="1" height="14" fill="#808080"/>
<rect x="877" y="831" width="1" height="14" fill="#808080"/>
<rect x="957" y="831" width="1" height="14" fill="#808080"/>
</svg>
<div class="t" style="left:1429px;top:34px;font-size:10px;color:#000;font-weight:normal;letter-spacing:-0.45px">1.14605</div>
<div class="t" style="left:1429px;top:67px;font-size:10px;color:#000;font-weight:normal;letter-spacing:-0.45px">1.14380</div>
<div class="t" style="left:1429px;top:100px;font-size:10px;color:#000;font-weight:normal;letter-spacing:-0.45px">1.14155</div>
<div class="t" style="left:1429px;top:133px;font-size:10px;color:#000;font-weight:normal;letter-spacing:-0.45px">1.13930</div>
<div class="t" style="left:1429px;top:166px;font-size:10px;color:#000;font-weight:normal;letter-spacing:-0.45px">1.13705</div>
<div class="t" style="left:1429px;top:199px;font-size:10px;color:#000;font-weight:normal;letter-spacing:-0.45px">1.13475</div>
<div class="t" style="left:1429px;top:232px;font-size:10px;color:#000;font-weight:normal;letter-spacing:-0.45px">1.13250</div>
<div class="t" style="left:1429px;top:265px;font-size:10px;color:#000;font-weight:normal;letter-spacing:-0.45px">1.13025</div>
<div class="t" style="left:1429px;top:298px;font-size:10px;color:#000;font-weight:normal;letter-spacing:-0.45px">1.12800</div>
<div class="t" style="left:1429px;top:331px;font-size:10px;color:#000;font-weight:normal;letter-spacing:-0.45px">1.12575</div>
<div class="t" style="left:1429px;top:364px;font-size:10px;color:#000;font-weight:normal;letter-spacing:-0.45px">1.12350</div>
<div class="t" style="left:1429px;top:463px;font-size:10px;color:#000;font-weight:normal;letter-spacing:-0.45px">1.11675</div>
<div class="t" style="left:1429px;top:497px;font-size:10px;color:#000;font-weight:normal;letter-spacing:-0.45px">1.11445</div>
<div class="t" style="left:1429px;top:530px;font-size:10px;color:#000;font-weight:normal;letter-spacing:-0.45px">1.11220</div>
<div class="t" style="left:1429px;top:563px;font-size:10px;color:#000;font-weight:normal;letter-spacing:-0.45px">1.10995</div>
<div class="t" style="left:1429px;top:121px;font-size:10px;color:#fff;font-weight:normal;letter-spacing:-0.45px">1.14009</div>
<div class="t" style="left:1429px;top:291px;font-size:10px;color:#fff;font-weight:normal;letter-spacing:-0.45px">1.12851</div>
<div class="t" style="left:1429px;top:398px;font-size:10px;color:#fff;font-weight:normal;letter-spacing:-0.45px">1.12115</div>
<div class="t" style="left:1429px;top:430px;font-size:10px;color:#fff;font-weight:normal;letter-spacing:-0.45px">1.11901</div>
<div class="t" style="left:1429px;top:547px;font-size:10px;color:#fff;font-weight:normal;letter-spacing:-0.45px">1.11103</div>
<div class="t" style="left:1427px;top:574px;font-size:10px;color:#000;font-weight:normal;letter-spacing:-0.45px">0.004465</div>
<div class="t" style="left:1427px;top:624px;font-size:10px;color:#000;font-weight:normal;letter-spacing:-0.45px">0.00</div>
<div class="t" style="left:1427px;top:663px;font-size:10px;color:#000;font-weight:normal;letter-spacing:-0.45px">-0.003715</div>
<div class="t" style="left:1427px;top:679px;font-size:10px;color:#000;font-weight:normal;letter-spacing:-0.45px">100</div>
<div class="t" style="left:1426px;top:712px;font-size:10px;color:#000;font-weight:normal;letter-spacing:-0.45px">70</div>
<div class="t" style="left:1426px;top:763px;font-size:10px;color:#000;font-weight:normal;letter-spacing:-0.45px">30</div>
<div class="t" style="left:1427px;top:795px;font-size:10px;color:#000;font-weight:normal;letter-spacing:-0.45px">0</div>
<div class="t" style="left:7px;top:811px;font-size:10px;color:#000;font-weight:normal;letter-spacing:-0.3px">8 Feb 2019</div>
<div class="t" style="left:71px;top:811px;font-size:10px;color:#000;font-weight:normal;letter-spacing:-0.3px">18 Feb 2019</div>
<div class="t" style="left:135px;top:811px;font-size:10px;color:#000;font-weight:normal;letter-spacing:-0.3px">27 Feb 2019</div>
<div class="t" style="left:199px;top:811px;font-size:10px;color:#000;font-weight:normal;letter-spacing:-0.3px">8 Mar 2019</div>
<div class="t" style="left:263px;top:811px;font-size:10px;color:#000;font-weight:normal;letter-spacing:-0.3px">18 Mar 2019</div>
<div class="t" style="left:327px;top:811px;font-size:10px;color:#000;font-weight:normal;letter-spacing:-0.3px">27 Mar 2019</div>
<div class="t" style="left:391px;top:811px;font-size:10px;color:#000;font-weight:normal;letter-spacing:-0.3px">5 Apr 2019</div>
<div class="t" style="left:455px;top:811px;font-size:10px;color:#000;font-weight:normal;letter-spacing:-0.3px">15 Apr 2019</div>
<div class="t" style="left:519px;top:811px;font-size:10px;color:#000;font-weight:normal;letter-spacing:-0.3px">25 Apr 2019</div>
<div class="t" style="left:583px;top:811px;font-size:10px;color:#000;font-weight:normal;letter-spacing:-0.3px">5 May 2019</div>
<div class="t" style="left:647px;top:811px;font-size:10px;color:#000;font-weight:normal;letter-spacing:-0.3px">14 May 2019</div>
<div class="t" style="left:711px;top:811px;font-size:10px;color:#000;font-weight:normal;letter-spacing:-0.3px">23 May 2019</div>
<div class="t" style="left:775px;top:811px;font-size:10px;color:#000;font-weight:normal;letter-spacing:-0.3px">2 Jun 2019</div>
<div class="t" style="left:839px;top:811px;font-size:10px;color:#000;font-weight:normal;letter-spacing:-0.3px">11 Jun 2019</div>
<div class="t" style="left:903px;top:811px;font-size:10px;color:#000;font-weight:normal;letter-spacing:-0.3px">20 Jun 2019</div>
<div class="t" style="left:967px;top:811px;font-size:10px;color:#000;font-weight:normal;letter-spacing:-0.3px">30 Jun 2019</div>
<div class="t" style="left:1031px;top:811px;font-size:10px;color:#000;font-weight:normal;letter-spacing:-0.3px">9 Jul 2019</div>
<div class="t" style="left:1095px;top:811px;font-size:10px;color:#000;font-weight:normal;letter-spacing:-0.3px">18 Jul 2019</div>
<div class="t" style="left:12px;top:576px;font-size:10px;color:#000;font-weight:normal;letter-spacing:-0.3px">MACD(12,26,9) -0.001562 -0.001110</div>
<div class="t" style="left:12px;top:681px;font-size:10px;color:#000;font-weight:normal;letter-spacing:-0.3px">RSI(14) 42.4230</div>
<svg style="position:absolute;left:10px;top:34px" width="10" height="8"><polygon points="1,6 4.5,2 8,6" fill="#000"/></svg>
<div class="t" style="left:23px;top:34px;font-size:10px;color:#000;font-weight:normal;letter-spacing:-0.27px">EURUSD-,Daily&nbsp; 1.12171 1.12194 1.12100 1.12115</div>
<div class="t" style="left:10px;top:10px;font-size:10px;color:#3c3c3c;font-weight:normal;">H4</div>
<div class="t" style="left:39px;top:10px;font-size:10px;color:#3c3c3c;font-weight:normal;">D1</div>
<div class="t" style="left:66px;top:10px;font-size:10px;color:#3c3c3c;font-weight:normal;">W1</div>
<div class="t" style="left:93px;top:10px;font-size:10px;color:#3c3c3c;font-weight:normal;">MN</div>
<div class="t" style="left:20px;top:833px;font-size:12px;color:#000;font-weight:normal;">EURUSD-,Daily</div>
<div class="t" style="left:127px;top:833px;font-size:12px;color:#777;font-weight:normal;">AUDUSD-,Daily</div>
<div class="t" style="left:237px;top:833px;font-size:12px;color:#777;font-weight:normal;">USDCHF-,Daily</div>
<div class="t" style="left:344px;top:833px;font-size:12px;color:#777;font-weight:normal;">USDCAD-,Daily</div>
<div class="t" style="left:453px;top:833px;font-size:12px;color:#777;font-weight:normal;">USDCNH-,Daily</div>
<div class="t" style="left:564px;top:833px;font-size:12px;color:#777;font-weight:normal;">EURCHF-,Weekly</div>
<div class="t" style="left:685px;top:833px;font-size:12px;color:#777;font-weight:normal;">XAUUSD-,M15</div>
<div class="t" style="left:792px;top:833px;font-size:12px;color:#777;font-weight:normal;">GBPUSD-,H1</div>
<div class="t" style="left:888px;top:833px;font-size:12px;color:#777;font-weight:normal;">UKOil-,H1</div>
<div style="position:absolute;left:11px;top:49px;width:52px;height:26px;box-sizing:border-box;border:1px solid #c00000;border-bottom:none;background:linear-gradient(#fc5454,#e23030);"></div>
<div style="position:absolute;left:178px;top:49px;width:52px;height:26px;box-sizing:border-box;border:1px solid #c00000;border-bottom:none;background:linear-gradient(#fc5454,#e23030);"></div>
<div style="position:absolute;left:11px;top:73px;width:109px;height:40px;box-sizing:border-box;border:1px solid #b80000;border-top:none;background:linear-gradient(#e03030,#b00404);"></div>
<div style="position:absolute;left:122px;top:73px;width:108px;height:40px;box-sizing:border-box;border:1px solid #b80000;border-top:none;background:linear-gradient(#e03030,#b00404);"></div>
<div style="position:absolute;left:62px;top:72px;width:58px;height:1px;background:#c00000"></div>
<div style="position:absolute;left:122px;top:72px;width:57px;height:1px;background:#c00000"></div>
<div style="position:absolute;left:15px;top:72px;width:44px;height:1px;background:#8a0000"></div>
<div style="position:absolute;left:15px;top:73px;width:44px;height:1px;background:#f06060"></div>
<div style="position:absolute;left:182px;top:72px;width:44px;height:1px;background:#8a0000"></div>
<div style="position:absolute;left:182px;top:73px;width:44px;height:1px;background:#f06060"></div>
<div style="position:absolute;left:65px;top:49px;width:111px;height:22px;background:#fff;border:1px solid #b4b4b4;box-sizing:border-box"></div>
<div style="position:absolute;left:66px;top:50px;width:20px;height:20px;background:linear-gradient(#ececec,#d4d4d4);border-right:1px solid #c8c8c8"></div>
<div style="position:absolute;left:155px;top:50px;width:20px;height:20px;background:linear-gradient(#ececec,#d4d4d4);border-left:1px solid #c8c8c8"></div>
<svg style="position:absolute;left:72px;top:58px" width="8" height="5"><polygon points="1,1 7,1 4,4" fill="#4a5fc0"/></svg>
<svg style="position:absolute;left:161px;top:57px" width="8" height="5"><polygon points="1,4 7,4 4,1" fill="#4a5fc0"/></svg>
<div class="t" style="left:23px;top:55px;font-size:12px;color:#fff;font-weight:normal;letter-spacing:-0.4px">SELL</div>
<div class="t" style="left:191px;top:55px;font-size:12px;color:#fff;font-weight:normal;letter-spacing:-0.4px">BUY</div>
<div class="t" style="left:127px;top:54px;font-size:12px;color:#000;font-weight:normal;">1.00</div>
<div class="t" style="left:31px;top:93px;font-size:12px;color:#fff;font-weight:bold;">1.12</div>
<div class="t" style="left:58px;top:76px;font-size:33px;color:#fff;font-weight:normal;">11</div>
<div class="t" style="left:98px;top:78px;font-size:12px;color:#fff;font-weight:bold;">5</div>
<div class="t" style="left:141px;top:93px;font-size:12px;color:#fff;font-weight:bold;">1.12</div>
<div class="t" style="left:169px;top:76px;font-size:33px;color:#fff;font-weight:normal;">13</div>
<div class="t" style="left:209px;top:78px;font-size:12px;color:#fff;font-weight:bold;">3</div>
</body></html>
